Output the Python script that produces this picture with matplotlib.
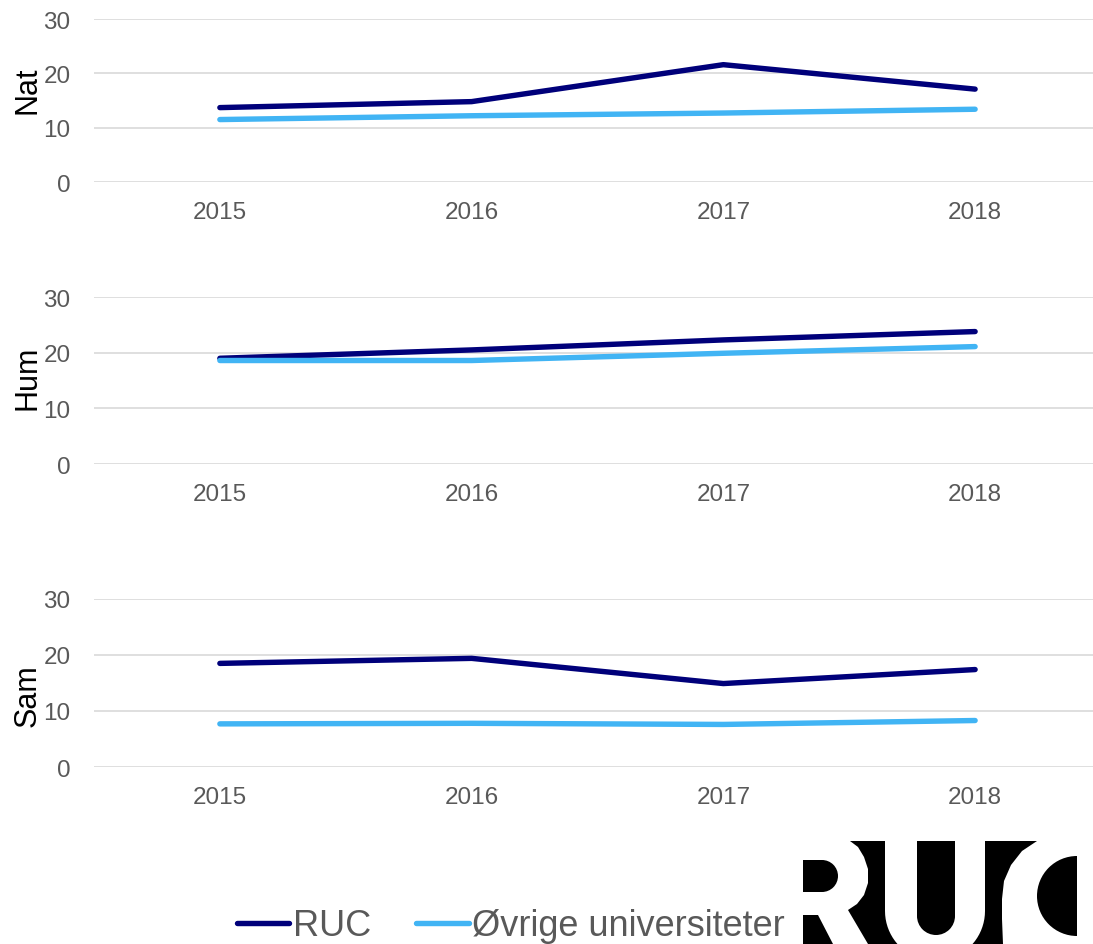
import numpy as np
from matplotlib import pyplot as plt
from matplotlib.patches import Polygon, Rectangle, Wedge

plt.rcParams["font.family"] = ["Liberation Sans", "DejaVu Sans"]

years = ["2015", "2016", "2017", "2018"]
panels = ["Nat", "Hum", "Sam"]

nat_ruc = [13.7, 14.8, 21.6, 17.1]
nat_ovr = [11.5, 12.2, 12.7, 13.4]
hum_ruc = [19.0, 20.5, 22.3, 23.8]
hum_ovr = [18.6, 18.6, 19.9, 21.1]
sam_ruc = [18.5, 19.4, 14.9, 17.4]
sam_ovr = [7.7, 7.8, 7.6, 8.3]

y_ticks = [0, 10, 20, 30]

RUC_COLOR = "#00007A"
OVR_COLOR = "#41B4F4"
GREY = "#595959"


def panel(fig, rect, ruc, ovr, name, label_y):
    ax = fig.add_axes(rect)
    x = np.arange(len(years))
    ax.plot(x, ruc, color=RUC_COLOR, lw=3.9, solid_capstyle="round",
            solid_joinstyle="round", label="RUC", zorder=3)
    ax.plot(x, ovr, color=OVR_COLOR, lw=3.9, solid_capstyle="round",
            solid_joinstyle="round", label="Øvrige universiteter", zorder=3)
    ax.set_xlim(-0.5, len(years) - 0.5)
    ax.set_ylim(0, 30)
    ax.set_xticks(x)
    ax.set_xticklabels(years)
    ax.set_yticks(y_ticks)
    ax.grid(axis="y", color="#D9D9D9", lw=1.2)
    ax.set_axisbelow(True)
    for s in ax.spines.values():
        s.set_visible(False)
    ax.tick_params(axis="both", length=0, labelsize=17.5, colors=GREY)
    ax.tick_params(axis="x", pad=14)
    ax.tick_params(axis="y", pad=17)
    ax.set_ylabel(name, fontsize=22, color="black")
    ax.yaxis.set_label_coords(-0.051, label_y)
    return ax


def logo(fig):
    # RUC logo drawn in pixel space (y downwards)
    lx = fig.add_axes([0, 0, 1, 1], zorder=5)
    lx.set_xlim(0, 1093)
    lx.set_ylim(945, 0)
    lx.axis("off")
    lx.patch.set_alpha(0)
    k = "black"
    w = "white"
    lx.add_patch(Rectangle((803, 842), 274, 103, color=k, lw=0))
    # R
    r_pts = [(800, 842), (850, 842), (858, 848), (864, 858), (868, 870),
             (868, 884), (864, 896), (857, 905), (848, 911), (868, 945),
             (833, 945), (818, 916), (800, 916)]
    lx.add_patch(Polygon(r_pts, closed=True, color=w, lw=0))
    lx.add_patch(Rectangle((803, 861), 19, 32, color=k, lw=0))
    lx.add_patch(Wedge((822, 877), 16, -90, 90, color=k, lw=0))
    # U
    t = np.linspace(0, np.pi, 40)
    u_pts = [(885, 842), (985, 842)] + list(zip(935 + 50 * np.cos(t), 912 + 50 * np.sin(t)))
    lx.add_patch(Polygon(u_pts, closed=True, color=w, lw=0))
    lx.add_patch(Rectangle((917, 842), 38, 75, color=k, lw=0))
    lx.add_patch(Wedge((936, 917), 19, 0, 180, color=k, lw=0))
    # C
    c_pts = [(1037, 842), (1022, 852), (1011, 866), (1004, 882), (1002, 900),
             (1002, 920), (1003, 945), (1080, 945), (1080, 842)]
    lx.add_patch(Polygon(c_pts, closed=True, color=w, lw=0))
    lx.add_patch(Wedge((1077, 897), 40, 90, 270, color=k, lw=0))


fig = plt.figure(figsize=(10.93, 9.45), dpi=100)

ax1 = panel(fig, [0.0860, 0.8063, 0.9213, 0.1725], nat_ruc, nat_ovr, panels[0], 0.57)
ax2 = panel(fig, [0.0860, 0.5079, 0.9213, 0.1767], hum_ruc, hum_ovr, panels[1], 0.52)
ax3 = panel(fig, [0.0860, 0.1873, 0.9213, 0.1778], sam_ruc, sam_ovr, panels[2], 0.43)

handles, labels = ax1.get_legend_handles_labels()
leg = fig.legend(handles, labels, loc="center", bbox_to_anchor=(511 / 1093, 1 - 927 / 945),
                 ncol=2, frameon=False, fontsize=26, handlelength=1.45,
                 handletextpad=0.1, columnspacing=1.25)
for txt in leg.get_texts():
    txt.set_color(GREY)

logo(fig)

fig.savefig("out.png", dpi=100)
